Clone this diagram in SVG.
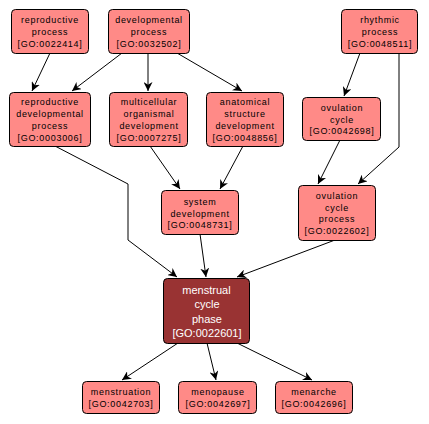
<svg xmlns="http://www.w3.org/2000/svg" width="429" height="424" viewBox="0 0 429 424">
<defs>
<marker id="ah" viewBox="0 0 10 10" refX="10" refY="5" markerWidth="9" markerHeight="9" markerUnits="userSpaceOnUse" orient="auto">
<path d="M0,0 L10,5 L0,10 L3,5 z" fill="#000"/>
</marker>
<style>
.n rect{fill:#ff8a87;stroke:#000;stroke-width:1}
.n text{font-family:"Liberation Sans",Arial,sans-serif;font-size:9px;letter-spacing:0.7px;fill:#000;text-anchor:middle}
.d rect{fill:#993333;stroke:#000;stroke-width:1}
.d text{font-family:"Liberation Sans",Arial,sans-serif;font-size:11px;fill:#fff;text-anchor:middle}
.e path{fill:none;stroke:#000;stroke-width:1;marker-end:url(#ah)}
</style>
</defs>
<rect width="429" height="424" fill="#fff"/>
<g id="edges" class="e">
<path d="M50,53 L32,91"/>
<path d="M122,53 L72,91"/>
<path d="M148,53 L148,91"/>
<path d="M177,53 L242,91"/>
<path d="M360,53 L344,96"/>
<path d="M399,53 L399,147 L358,184"/>
<path d="M340,140 L318,184"/>
<path d="M55,146 L128,184 L128,240 L177,277"/>
<path d="M150,146 L180,189"/>
<path d="M243,146 L220,189"/>
<path d="M200,234 L206,277"/>
<path d="M335,240 L237,277"/>
<path d="M178,343 L122,380"/>
<path d="M207,343 L216,380"/>
<path d="M237,343 L312,380"/>
</g>
<g id="n1" class="n"><rect x="11.5" y="9.5" width="77" height="44" rx="4"/>
<text x="50" y="23">reproductive</text><text x="50" y="35">process</text><text x="50" y="46.5">[GO:0022414]</text></g>
<g id="n2" class="n"><rect x="108.5" y="9.5" width="81" height="44" rx="4"/>
<text x="149" y="23">developmental</text><text x="149" y="35">process</text><text x="149" y="46.5">[GO:0032502]</text></g>
<g id="n3" class="n"><rect x="341.5" y="9.5" width="76" height="44" rx="4"/>
<text x="380" y="23">rhythmic</text><text x="380" y="35">process</text><text x="380" y="46.5">[GO:0048511]</text></g>
<g id="n4" class="n"><rect x="9.5" y="92.5" width="81" height="54" rx="4"/>
<text x="50" y="105">reproductive</text><text x="50" y="117">developmental</text><text x="50" y="129">process</text><text x="50" y="140.5">[GO:0003006]</text></g>
<g id="n5" class="n"><rect x="109.5" y="92.5" width="78" height="54" rx="4"/>
<text x="149" y="105">multicellular</text><text x="149" y="117">organismal</text><text x="149" y="129">development</text><text x="149" y="140.5">[GO:0007275]</text></g>
<g id="n6" class="n"><rect x="206.5" y="92.5" width="77" height="54" rx="4"/>
<text x="245" y="105">anatomical</text><text x="245" y="117">structure</text><text x="245" y="129">development</text><text x="245" y="140.5">[GO:0048856]</text></g>
<g id="n7" class="n"><rect x="302.5" y="97.5" width="78" height="43" rx="4"/>
<text x="342" y="111">ovulation</text><text x="342" y="122.5">cycle</text><text x="342" y="134">[GO:0042698]</text></g>
<g id="n8" class="n"><rect x="161.5" y="190.5" width="77" height="44" rx="4"/>
<text x="200" y="205">system</text><text x="200" y="216.5">development</text><text x="200" y="228">[GO:0048731]</text></g>
<g id="n9" class="n"><rect x="298.5" y="185.5" width="77" height="55" rx="4"/>
<text x="337" y="199">ovulation</text><text x="337" y="211">cycle</text><text x="337" y="222">process</text><text x="337" y="234">[GO:0022602]</text></g>
<g id="n10" class="d"><rect x="163.5" y="278.5" width="86" height="65" rx="4"/>
<text x="206.5" y="294">menstrual</text><text x="207" y="308">cycle</text><text x="207" y="322.5">phase</text><text x="207" y="337">[GO:0022601]</text></g>
<g id="n11" class="n"><rect x="82.5" y="381.5" width="77" height="32" rx="4"/>
<text x="121" y="395">menstruation</text><text x="121" y="407">[GO:0042703]</text></g>
<g id="n12" class="n"><rect x="178.5" y="381.5" width="78" height="32" rx="4"/>
<text x="218" y="395">menopause</text><text x="218" y="407">[GO:0042697]</text></g>
<g id="n13" class="n"><rect x="275.5" y="381.5" width="77" height="32" rx="4"/>
<text x="314" y="395">menarche</text><text x="314" y="407">[GO:0042696]</text></g>
</svg>
